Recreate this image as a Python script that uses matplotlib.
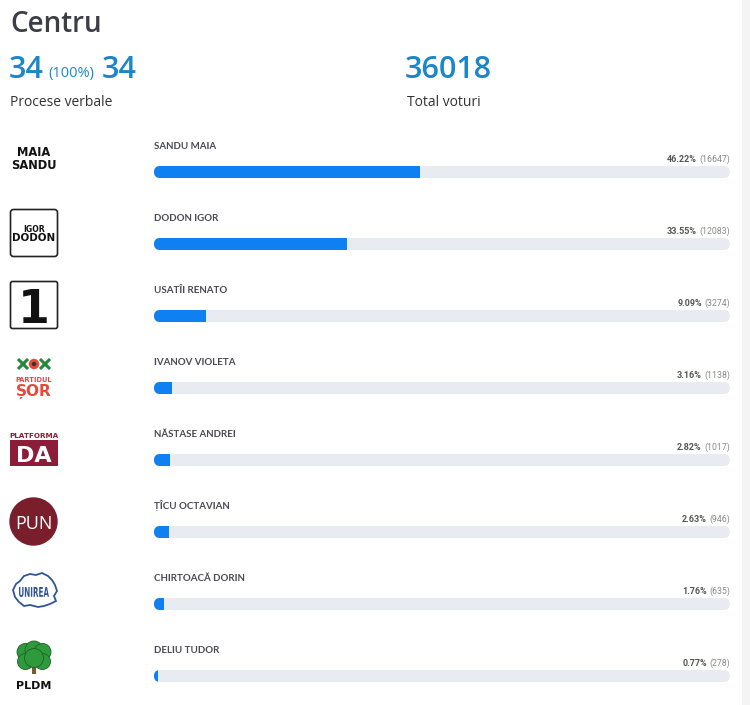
import matplotlib
matplotlib.use("Agg")
import matplotlib.pyplot as plt
from matplotlib.patches import FancyBboxPatch, Rectangle, Circle, Polygon, PathPatch
from matplotlib.textpath import TextPath
from matplotlib.font_manager import FontProperties
import matplotlib.transforms as mtransforms

# ---------------- data ----------------
region = "Centru"
pv_counted = 34
pv_pct = "(100%)"
pv_total = 34
total_votes = 36018
pv_label = "Procese verbale"
votes_label = "Total voturi"
candidates = ["SANDU MAIA", "DODON IGOR", "USATÎI RENATO", "IVANOV VIOLETA",
              "NĂSTASE ANDREI", "ȚÎCU OCTAVIAN", "CHIRTOACĂ DORIN", "DELIU TUDOR"]
percents = [46.22, 33.55, 9.09, 3.16, 2.82, 2.63, 1.76, 0.77]
votes = [16647, 12083, 3274, 1138, 1017, 946, 635, 278]

# ---------------- style ----------------
W, H = 750, 705
ROW0, ROWSTEP = 172, 72          # pixel centre of first bar, row pitch
BAR_L, BAR_R = 154, 730          # track extent in pixels
BAR_H = 12                       # bar thickness in pixels
BLUE = "#0f80f2"
TRACK = "#e8ebef"
HEAD_BLUE = "#1b86c8"
LABEL_C = "#4a4a55"

fig = plt.figure(figsize=(W / 100, H / 100), dpi=100)
fig.patch.set_facecolor("white")

# background / decoration axes in pixel coordinates
bg = fig.add_axes([0, 0, 1, 1])
bg.set_xlim(0, W)
bg.set_ylim(H, 0)
bg.axis("off")
bg.add_patch(Rectangle((742, 0), 8, H, color="#f4f4f5", lw=0))

# bar axes: x in percent, y in row index
ax = fig.add_axes([BAR_L / W, 0, (BAR_R - BAR_L) / W, 1])
ax.set_xlim(0, 100)
ax.set_ylim((H - ROW0) / ROWSTEP, -ROW0 / ROWSTEP)
ax.axis("off")
ax.patch.set_alpha(0)

x_per_px = 100 / (BAR_R - BAR_L)
y_per_px = 1 / ROWSTEP
h = BAR_H * y_per_px
r = (BAR_H / 2) * x_per_px
ma = y_per_px / x_per_px

label_font = ["Lato", "DejaVu Sans"]
num_font = ["Roboto", "DejaVu Sans"]
head_font = ["Open Sans", "DejaVu Sans"]

name_tr = mtransforms.offset_copy(ax.transData, fig=fig, x=0, y=23, units="dots")
pct_tr = mtransforms.offset_copy(ax.transData, fig=fig, x=0, y=10, units="dots")

count_texts = []
for i, (name, p, v) in enumerate(zip(candidates, percents, votes)):
    track = FancyBboxPatch((0, i - h / 2), 100, h,
                           boxstyle=f"round,pad=0,rounding_size={r}",
                           mutation_aspect=ma, fc=TRACK, ec="none", zorder=1)
    ax.add_patch(track)
    bars = ax.barh([i], [p], height=h, left=0, color=BLUE, zorder=2)
    bars[0].set_clip_path(track)
    ax.text(0, i, name, transform=name_tr, ha="left", va="baseline",
            fontsize=7, fontweight="bold", color=LABEL_C, family=label_font)
    t = ax.text(100, i, f"({v})", transform=pct_tr, ha="right", va="baseline",
                fontsize=6.3, color="#8a8a8a", family=num_font)
    count_texts.append(t)

# header
bg.text(10, 32, region, fontsize=20, color="#3d3d46", family=head_font,
        fontweight="semibold", va="baseline", ha="left")
bg.text(9, 78, str(pv_counted), fontsize=22, color=HEAD_BLUE, family=head_font,
        fontweight="semibold", va="baseline", ha="left")
bg.text(48, 77, pv_pct, fontsize=10.5, color=HEAD_BLUE, family=head_font,
        va="baseline", ha="left")
bg.text(102, 78, str(pv_total), fontsize=22, color=HEAD_BLUE, family=head_font,
        fontweight="semibold", va="baseline", ha="left")
bg.text(405, 78, str(total_votes), fontsize=22, color=HEAD_BLUE, family=head_font,
        fontweight="semibold", va="baseline", ha="left")
bg.text(10, 106, pv_label, fontsize=10, color="#333333", family=head_font,
        va="baseline", ha="left")
bg.text(407, 106, votes_label, fontsize=10, color="#333333", family=head_font,
        va="baseline", ha="left")


# ---------------- logos (decorative) ----------------
def row_y(i):
    return ROW0 + ROWSTEP * i


# 0: Maia Sandu
bg.text(34, row_y(0) - 13, "MAIA\nSANDU", ha="center", va="center", fontsize=8.3,
        fontweight="heavy", color="#111", linespacing=0.95, family=["DejaVu Sans"])
# 1: Igor Dodon
y1 = row_y(1)
bg.add_patch(FancyBboxPatch((10.5, y1 - 34.5), 47, 47, boxstyle="round,pad=0,rounding_size=3",
                            fc="white", ec="#222", lw=1.2))
bg.text(34, y1 - 12, "IGOR", ha="center", va="baseline", fontsize=5.6,
        fontweight="bold", color="#111", family=["DejaVu Sans"])
bg.text(34, y1 - 3, "DODON", ha="center", va="baseline", fontsize=7.4,
        fontweight="bold", color="#111", family=["DejaVu Sans"])
# 2: number 1
y2 = row_y(2)
bg.add_patch(FancyBboxPatch((10.5, y2 - 34.5), 47, 47, boxstyle="round,pad=0,rounding_size=2",
                            fc="white", ec="#222", lw=1.2))
bg.text(34, y2 + 7, "1", ha="center", va="baseline", fontsize=33,
        fontweight="heavy", color="#111", family=["DejaVu Sans"])
# 3: Partidul Sor
y3 = row_y(3)
RED, GREEN = "#e5493a", "#23893c"
for dx in (-11, 11):
    cx, cy = 34 + dx, y3 - 24
    for sx, sy in ((1, 1), (1, -1)):
        bg.plot([cx - 5 * sx, cx + 5 * sx], [cy - 5 * sy, cy + 5 * sy], color=GREEN, lw=2.2,
                solid_capstyle="butt")
    bg.add_patch(Circle((cx, cy), 1.6, color=RED))
bg.add_patch(Circle((34, y3 - 24), 4.5, color=RED))
bg.add_patch(Circle((34, y3 - 24), 1.5, color="#333"))
bg.text(34, y3 - 8.5, "PARTIDUL", ha="center", va="center", fontsize=4.8,
        fontweight="bold", color=RED, family=["DejaVu Sans"])
bg.text(34, y3 + 8, "ȘOR", ha="center", va="baseline", fontsize=11,
        fontweight="bold", color=RED, family=["DejaVu Sans"])
# 4: Platforma DA
y4 = row_y(4)
MAROON = "#8c1d38"
bg.text(34, y4 - 24, "PLATFORMA", ha="center", va="center", fontsize=5.2,
        fontweight="heavy", color=MAROON, family=["DejaVu Sans"])
bg.add_patch(Rectangle((10, y4 - 20), 47.5, 26, color=MAROON, lw=0))
bg.text(34, y4 + 2, "DA", ha="center", va="baseline", fontsize=16,
        fontweight="heavy", color="white", family=["DejaVu Sans"])
# 5: PUN
y5 = row_y(5)
bg.add_patch(Circle((33.5, y5 - 10.5), 23.5, color="#7a1e2c"))
bg.text(33.5, y5 - 3, "PUN", ha="center", va="baseline", fontsize=13,
        color="white", family=["Open Sans", "DejaVu Sans"])
# 6: Unirea
y6 = row_y(6)
outline = [(13, 590), (16, 584), (20, 581), (24, 576), (30, 574), (36, 575), (42, 573),
           (48, 576), (52, 580), (55, 585), (57, 591), (54, 596), (56, 601), (50, 604),
           (44, 606), (38, 607), (30, 605), (24, 606), (19, 602), (15, 597)]
outline = [(x, y - 604 + y6) for x, y in outline]
bg.add_patch(Polygon(outline, closed=True, fc="white", ec="#2f5594", lw=1.3))
tp = TextPath((0, 0), "UNIREA", size=10, prop=FontProperties(family="DejaVu Sans", weight="bold"))
ext = tp.get_extents()
sx = 30 / ext.width
sy = -10 / ext.height
tr6 = (mtransforms.Affine2D().translate(-ext.x0 - ext.width / 2, -ext.y0)
       .scale(sx, sy).translate(34, y6 - 7) + bg.transData)
bg.add_patch(PathPatch(tp, transform=tr6, fc="#2f5594", ec="none"))
# 7: PLDM
y7 = row_y(7)
bg.add_patch(Rectangle((31.5, y7 - 14), 4, 12, color="#7a5a2e", lw=0))
for cx, cy, rr in ((25.5, -24, 8.5), (34, -26, 9), (42.5, -24, 8.5), (25.5, -14.5, 8),
                   (42.5, -14.5, 8), (34, -18, 9.5)):
    bg.add_patch(Circle((cx, y7 + cy), rr, fc="#2f9a3c", ec="#1f6126", lw=0.6))
bg.text(34, y7 + 13, "PLDM", ha="center", va="baseline", fontsize=8,
        fontweight="heavy", color="#111", family=["DejaVu Sans"])

# ---------------- percent labels, placed left of the vote counts ----------------
fig.canvas.draw()
renderer = fig.canvas.get_renderer()
for i, (p, t) in enumerate(zip(percents, count_texts)):
    bb = t.get_window_extent(renderer)
    tr = mtransforms.offset_copy(ax.transData, fig=fig, x=0, y=10, units="dots")
    x_data = ax.transData.inverted().transform((bb.x0 - 2.5, 0))[0]
    ax.text(x_data, i, f"{p:.2f}%", transform=tr, ha="right", va="baseline",
            fontsize=6.5, fontweight="bold", color="#555555", family=num_font)

fig.savefig("out.png", dpi=100, facecolor="white")
